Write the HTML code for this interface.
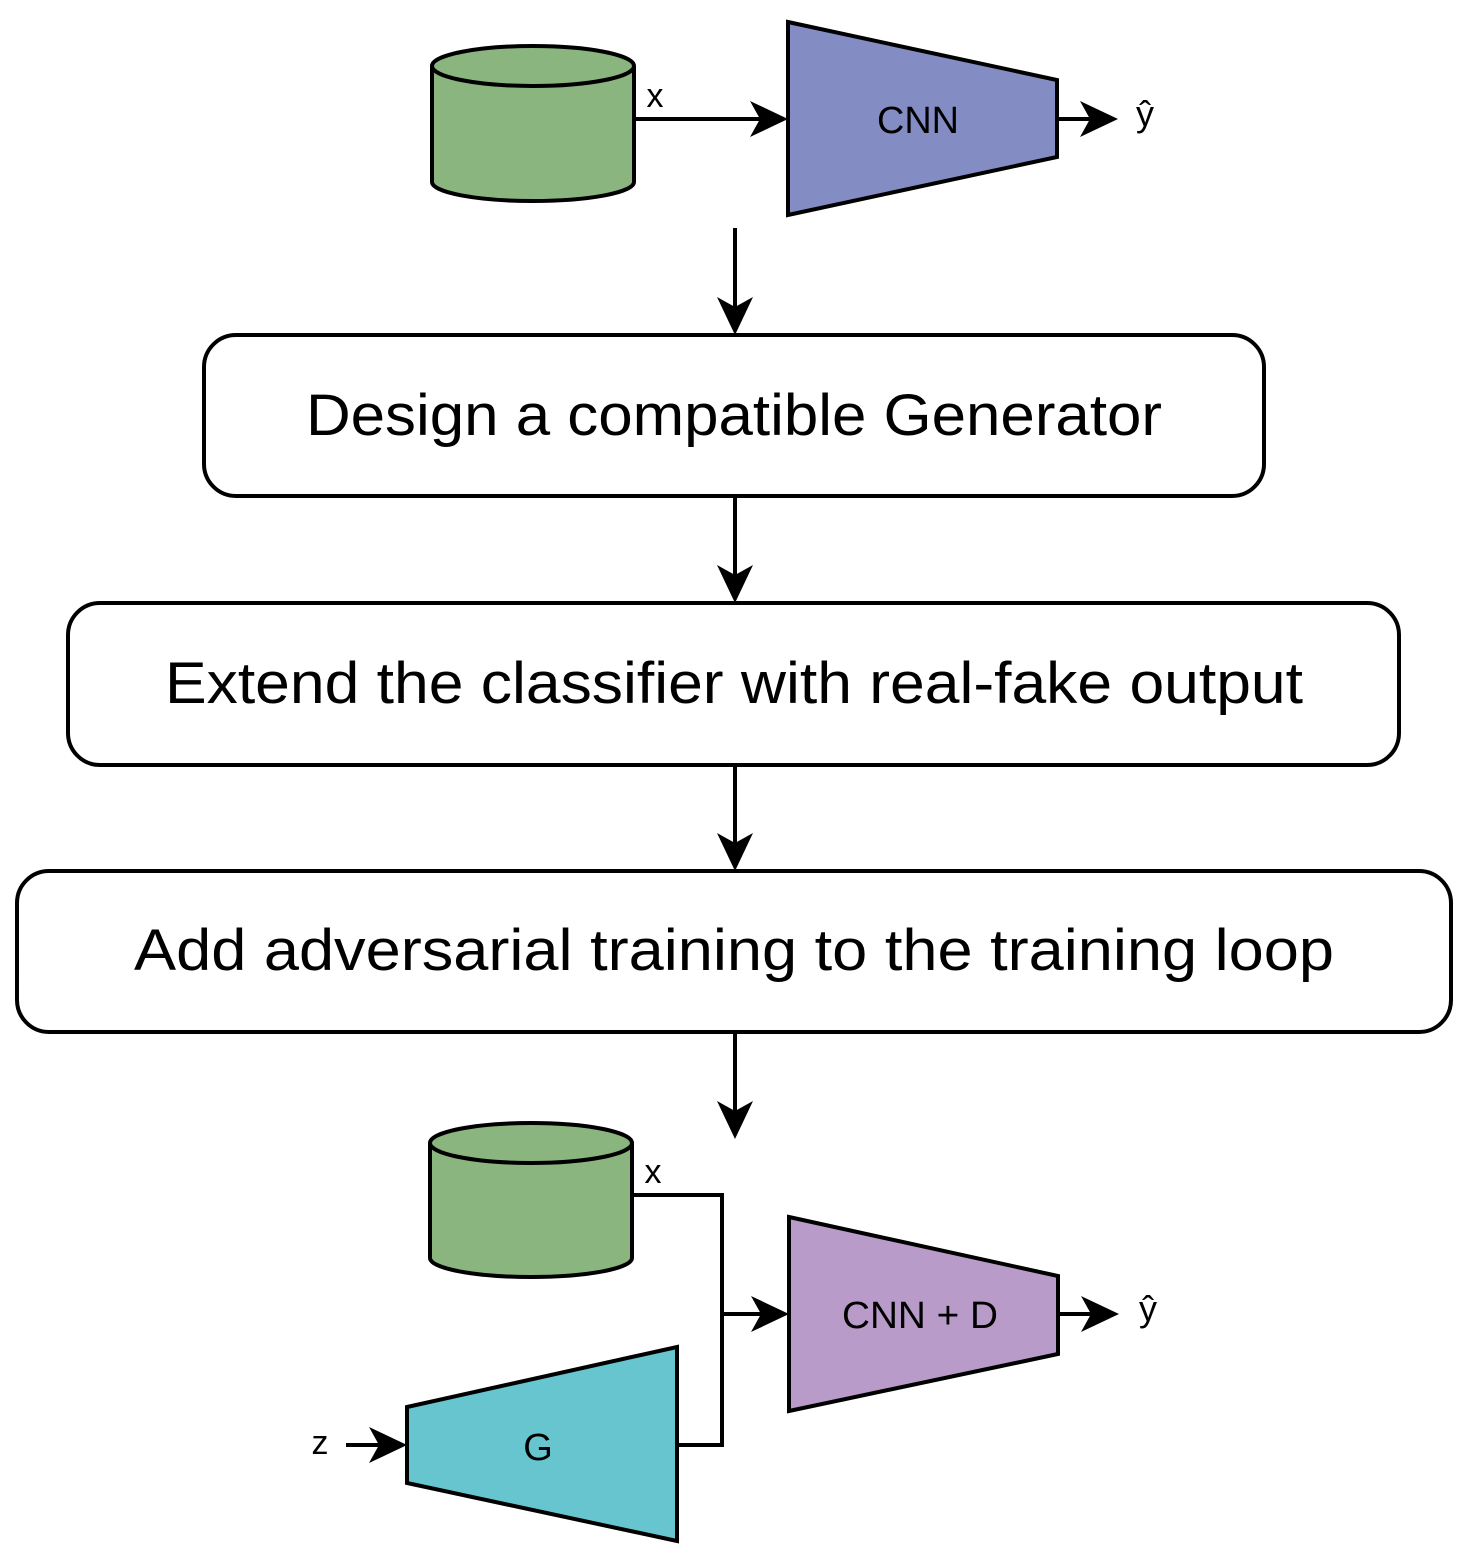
<!DOCTYPE html>
<html><head><meta charset="utf-8"><style>
html,body{margin:0;padding:0;background:#fff;}
svg{display:block;}
text{font-family:"Liberation Sans",sans-serif;fill:#000;}
</style></head><body>
<svg width="1472" height="1560" viewBox="0 0 1472 1560" xmlns="http://www.w3.org/2000/svg">
<g stroke="#000" stroke-width="4" fill="none">
<path d="M432,66 L432,182 A101,19 0 0 0 634,182 L634,66" fill="#8bb57f"/>
<ellipse cx="533" cy="66" rx="101" ry="20" fill="#8bb57f"/>
<polygon points="788,22 1057,80 1057,157 788,215" fill="#838cc3"/>
<line x1="634" y1="119" x2="770" y2="119"/>
<line x1="1057" y1="119" x2="1100" y2="119"/>
<line x1="735" y1="228" x2="735" y2="318"/>
<rect x="204" y="335" width="1060" height="161" rx="32" fill="#fff"/>
<line x1="735" y1="496" x2="735" y2="586"/>
<rect x="68" y="603" width="1331" height="162" rx="32" fill="#fff"/>
<line x1="735" y1="765" x2="735" y2="854"/>
<rect x="17" y="871" width="1434" height="161" rx="32" fill="#fff"/>
<line x1="735" y1="1032" x2="735" y2="1122"/>
<path d="M430,1143 L430,1258 A101,19 0 0 0 632,1258 L632,1143" fill="#8bb57f"/>
<ellipse cx="531" cy="1143" rx="101" ry="20" fill="#8bb57f"/>
<polyline points="632,1195 722,1195 722,1445 677,1445"/>
<line x1="722" y1="1314" x2="772" y2="1314"/>
<polygon points="789,1217 1058,1276 1058,1354 789,1411" fill="#b89bc8"/>
<line x1="1058" y1="1314" x2="1101" y2="1314"/>
<polygon points="407,1407 677,1347 677,1541 407,1483" fill="#66c5cf"/>
<line x1="346" y1="1445" x2="390" y2="1445"/>
</g>
<g fill="#000">
<polygon points="788,119 750,101 760,119 750,137"/>
<polygon points="1118,119 1080,101 1090,119 1080,137"/>
<polygon points="735,335 717,297 735,307 753,297"/>
<polygon points="735,603 717,565 735,575 753,565"/>
<polygon points="735,871 717,833 735,843 753,833"/>
<polygon points="735,1139 717,1101 735,1111 753,1101"/>
<polygon points="789,1314 751,1296 761,1314 751,1332"/>
<polygon points="1119,1314 1081,1296 1091,1314 1081,1332"/>
<polygon points="407,1445 369,1427 379,1445 369,1463"/>
</g>
<text x="655" y="107" font-size="34" text-anchor="middle">x</text>
<text x="918" y="133" font-size="38" text-anchor="middle" textLength="82" lengthAdjust="spacingAndGlyphs">CNN</text>
<text x="1145" y="126" font-size="36" text-anchor="middle">ŷ</text>
<text x="306" y="435" font-size="58" textLength="856" lengthAdjust="spacingAndGlyphs">Design a compatible Generator</text>
<text x="165" y="703" font-size="58" textLength="1138" lengthAdjust="spacingAndGlyphs">Extend the classifier with real-fake output</text>
<text x="134" y="970" font-size="58" textLength="1200" lengthAdjust="spacingAndGlyphs">Add adversarial training to the training loop</text>
<text x="653" y="1183" font-size="34" text-anchor="middle">x</text>
<text x="920" y="1328" font-size="38" text-anchor="middle" textLength="156" lengthAdjust="spacingAndGlyphs">CNN + D</text>
<text x="1148" y="1321" font-size="36" text-anchor="middle">ŷ</text>
<text x="538" y="1460" font-size="38" text-anchor="middle">G</text>
<text x="320" y="1454" font-size="34" text-anchor="middle">z</text>
</svg>
</body></html>
